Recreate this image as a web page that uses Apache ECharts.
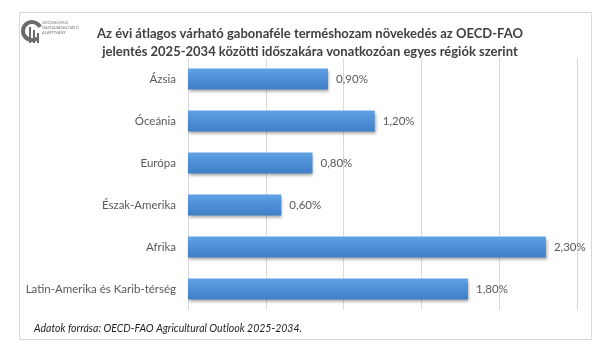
<!DOCTYPE html>
<html>
<head>
<meta charset="utf-8">
<script src="https://cdn.jsdelivr.net/npm/echarts@6/dist/echarts.min.js"></script>
<style>
  html, body { margin: 0; padding: 0; background: #fff; }
  #chart { width: 605px; height: 351px; }
</style>
</head>
<body>
<div id="chart"></div>
<script>
// régiók és értékek (%)
const regions = ['Ázsia', 'Óceánia', 'Európa', 'Észak-Amerika', 'Afrika', 'Latin-Amerika és Karib-térség'];
const growth = [0.9, 1.2, 0.8, 0.6, 2.3, 1.8];
const titleLines = [
  'Az évi átlagos várható gabonaféle terméshozam növekedés az OECD-FAO',
  'jelentés 2025-2034 közötti időszakára vonatkozóan egyes régiók szerint'
];
const sourceNote = 'Adatok forrása: OECD-FAO Agricultural Outlook 2025-2034.';
const logoLines = ['OECONOMUS', 'GAZDASÁGKUTATÓ', 'ALAPÍTVÁNY'];

const chart = echarts.init(document.getElementById('chart'));

const option = {
  backgroundColor: '#fff',
  textStyle: { fontFamily: 'Lato' },
  title: {
    text: titleLines.join('\n'),
    left: 305,
    textAlign: 'center',
    top: 20,
    textStyle: {
      fontFamily: 'Lato',
      fontSize: 13,
      fontWeight: 'bold',
      color: '#404040',
      lineHeight: 18
    }
  },
  grid: {
    left: 188,
    right: 28,
    top: 58,
    bottom: 41,
    containLabel: false
  },
  xAxis: {
    type: 'value',
    min: 0,
    max: 2.5,
    interval: 0.5,
    axisLabel: { show: false },
    axisLine: { show: false },
    axisTick: { show: false },
    splitLine: { show: true, lineStyle: { color: '#d9d9d9', width: 1 } }
  },
  yAxis: {
    type: 'category',
    data: regions,
    inverse: true,
    axisLine: { show: false },
    axisTick: { show: false },
    axisLabel: {
      color: '#595959',
      fontSize: 11.5,
      margin: 12,
      fontFamily: 'Lato'
    }
  },
  series: [{
    type: 'bar',
    data: growth,
    barWidth: '50%',
    itemStyle: {
      color: new echarts.graphic.LinearGradient(0, 0, 0, 1, [
        { offset: 0, color: '#62a2e2' },
        { offset: 0.5, color: '#4d8fd8' },
        { offset: 1, color: '#3f7fc8' }
      ]),
      shadowColor: 'rgba(0,0,0,0.35)',
      shadowBlur: 3,
      shadowOffsetX: 1,
      shadowOffsetY: 2
    },
    label: {
      show: true,
      position: 'right',
      distance: 8,
      color: '#595959',
      fontSize: 11.5,
      fontFamily: 'Lato',
      formatter: p => p.value.toFixed(2).replace('.', ',') + '%'
    }
  }],
  graphic: [
    // keret
    {
      type: 'rect',
      shape: { x: 19.5, y: 12.5, width: 572, height: 327 },
      style: { fill: 'none', stroke: '#d9d9d9', lineWidth: 1 },
      silent: true
    },
    // logó
    {
      type: 'arc',
      shape: { cx: 32, cy: 31, r: 9, startAngle: Math.PI * 0.3, endAngle: Math.PI * 1.85 },
      style: { stroke: '#6b6b6b', lineWidth: 4, fill: 'none' },
      silent: true
    },
    {
      type: 'rect',
      shape: { x: 29, y: 27, width: 2, height: 16 },
      style: { fill: '#6b6b6b' }, silent: true
    },
    {
      type: 'rect',
      shape: { x: 33, y: 30, width: 2, height: 13 },
      style: { fill: '#6b6b6b' }, silent: true
    },
    {
      type: 'rect',
      shape: { x: 37, y: 33, width: 2, height: 10 },
      style: { fill: '#6b6b6b' }, silent: true
    },
    {
      type: 'text',
      left: 42,
      top: 20,
      style: {
        text: logoLines.join('\n'),
        fill: '#7a7a7a',
        fontSize: 4,
        lineHeight: 5,
        fontFamily: 'Lato'
      },
      silent: true
    },
    // forrás
    {
      type: 'text',
      left: 34,
      top: 323,
      style: {
        text: sourceNote,
        fill: '#1f1f1f',
        fontSize: 10.5,
        fontStyle: 'italic',
        fontFamily: 'Lato'
      },
      silent: true
    }
  ]
};

chart.setOption(option);
</script>
</body>
</html>
